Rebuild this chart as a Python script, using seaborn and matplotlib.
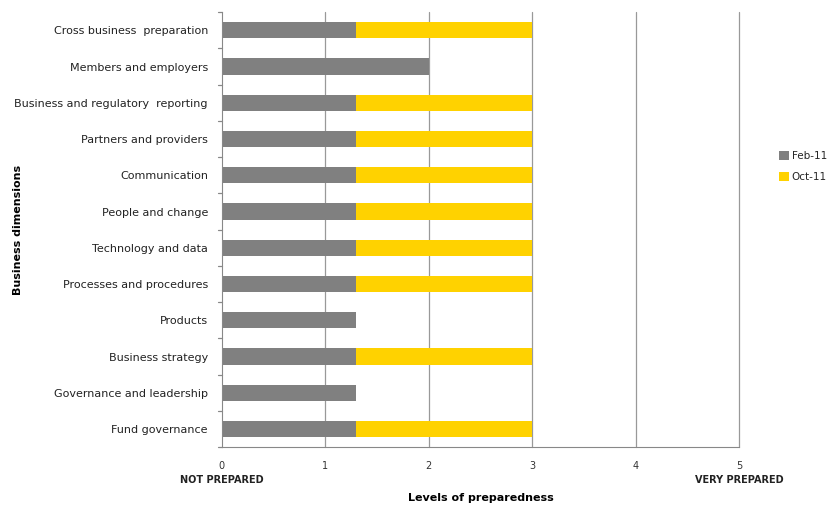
import pandas as pd
import seaborn as sns
import matplotlib.pyplot as plt
import numpy as np

# values
dimensions = ['Cross business  preparation', 'Members and employers',
              'Business and regulatory  reporting', 'Partners and providers',
              'Communication', 'People and change', 'Technology and data',
              'Processes and procedures', 'Products', 'Business strategy',
              'Governance and leadership', 'Fund governance']
feb_11 = [1.3, 2.0, 1.3, 1.3, 1.3, 1.3, 1.3, 1.3, 1.3, 1.3, 1.3, 1.3]
oct_11 = [1.7, 0.0, 1.7, 1.7, 1.7, 1.7, 1.7, 1.7, 0.0, 1.7, 0.0, 1.7]
x_ticks = [0, 1, 2, 3, 4, 5]

df = pd.DataFrame({'dim': dimensions, 'Feb-11': feb_11, 'Oct-11': oct_11})
df['total'] = df['Feb-11'] + df['Oct-11']

sns.set_style('white')
plt.rcParams['font.family'] = ['DejaVu Sans']

fig = plt.figure(figsize=(8.34, 5.07), dpi=100)
ax = fig.add_axes([0.266, 0.118, 0.62, 0.858])

grey = '#808080'
yellow = '#FFD200'

# stacked: draw total in yellow, then Feb-11 on top
sns.barplot(data=df, y='dim', x='total', color=yellow, orient='h',
            width=0.45, saturation=1, ax=ax, label='Oct-11', linewidth=0)
sns.barplot(data=df, y='dim', x='Feb-11', color=grey, orient='h',
            width=0.45, saturation=1, ax=ax, label='Feb-11', linewidth=0)

ax.set_xlim(0, 5)
ax.set_ylim(len(dimensions) - 0.5, -0.5)
ax.set_xticks(x_ticks)
ax.set_xticklabels([str(t) for t in x_ticks], fontsize=7, color='#333333')
ax.tick_params(axis='y', labelsize=8, length=0, pad=10, colors='#222222')
ax.tick_params(axis='x', length=4, color='#888888', pad=6)

# vertical grid lines
for xv in x_ticks[1:]:
    ax.axvline(xv, color='#999999', lw=0.9, zorder=0, clip_on=False)

# ticks between categories on y axis
for yb in np.arange(-0.5, len(dimensions), 1):
    ax.plot([-0.008, 0], [yb, yb], color='#888888', lw=0.9, clip_on=False,
            transform=ax.get_yaxis_transform())

for s in ['top', 'right']:
    ax.spines[s].set_visible(False)
for s in ['left', 'bottom']:
    ax.spines[s].set_color('#888888')

ax.set_ylabel('Business dimensions', fontsize=8, fontweight='bold', color='black')
ax.yaxis.set_label_coords(-0.385, 0.5)
ax.set_xlabel('Levels of preparedness', fontsize=8, fontweight='bold', color='black')
ax.xaxis.set_label_coords(0.5, -0.105)

ax.text(0, -0.075, 'NOT PREPARED', transform=ax.transAxes, ha='center',
        va='center', fontsize=7, fontweight='bold', color='#222222')
ax.text(1, -0.075, 'VERY PREPARED', transform=ax.transAxes, ha='center',
        va='center', fontsize=7, fontweight='bold', color='#222222')

handles, labels = ax.get_legend_handles_labels()
order = [labels.index('Feb-11'), labels.index('Oct-11')]
ax.legend([handles[i] for i in order], [labels[i] for i in order],
          loc='center left', bbox_to_anchor=(1.06, 0.645), frameon=False,
          fontsize=7.5, handlelength=0.9, handleheight=0.9, handletextpad=0.3,
          labelspacing=1.0)

fig.savefig('out.png', dpi=100)
